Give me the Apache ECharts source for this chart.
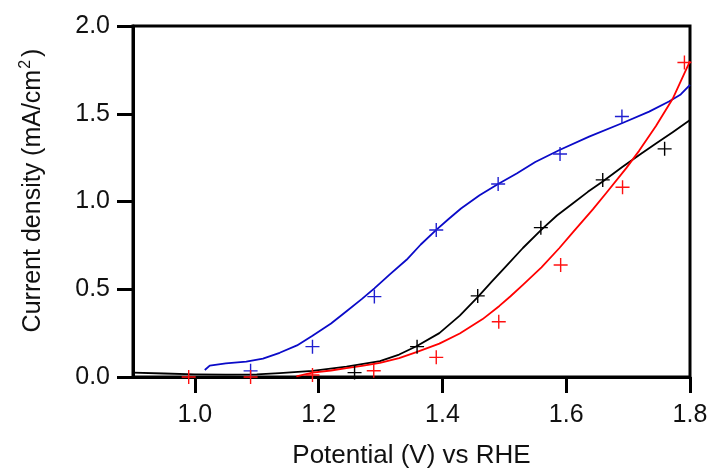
<!DOCTYPE html>
<html><head><meta charset="utf-8">
<script src="https://cdn.jsdelivr.net/npm/echarts@6/dist/echarts.min.js"></script>
<style>html,body{margin:0;padding:0;background:#fff}#c{width:711px;height:472px}</style>
</head><body><div id="c"></div>
<script>
// Tick labels
const xTickValues = [1.0, 1.2, 1.4, 1.6, 1.8];
const yTickValues = [0.0, 0.5, 1.0, 1.5, 2.0];

// Blue curve
const blueLineX = [1.016,1.024,1.05,1.083,1.11,1.137,1.165,1.19,1.22,1.245,1.27,1.29,1.315,1.342,1.365,1.39,1.41,1.43,1.46,1.49,1.52,1.55,1.59,1.637,1.69,1.734,1.766,1.785,1.8];
const blueLineY = [0.04,0.065,0.078,0.088,0.105,0.138,0.18,0.235,0.305,0.375,0.445,0.505,0.585,0.668,0.755,0.838,0.90,0.96,1.035,1.10,1.16,1.225,1.295,1.37,1.446,1.512,1.57,1.61,1.665];
// Black curve
const blackLineX = [0.9,0.95,1.0,1.05,1.10,1.137,1.19,1.245,1.299,1.33,1.358,1.395,1.428,1.457,1.48,1.503,1.53,1.56,1.585,1.611,1.635,1.659,1.69,1.718,1.745,1.772,1.8];
const blackLineY = [0.025,0.02,0.015,0.013,0.015,0.022,0.035,0.059,0.09,0.128,0.175,0.25,0.35,0.455,0.545,0.632,0.735,0.84,0.92,0.99,1.055,1.114,1.195,1.265,1.33,1.395,1.465];
// Red curve
const redLineX = [1.164,1.19,1.22,1.245,1.27,1.299,1.33,1.358,1.395,1.428,1.465,1.492,1.51,1.53,1.56,1.589,1.611,1.643,1.665,1.697,1.718,1.745,1.772,1.8];
const redLineY = [0.003,0.025,0.037,0.05,0.063,0.08,0.108,0.142,0.19,0.248,0.33,0.405,0.46,0.525,0.625,0.735,0.825,0.955,1.05,1.19,1.29,1.43,1.585,1.80];

// Markers (+)
const blueMarkX = [1.09,1.19,1.29,1.39,1.49,1.59,1.69];
const blueMarkY = [0.035,0.173,0.458,0.838,1.10,1.271,1.484];
const blackMarkX = [1.258,1.359,1.457,1.559,1.659,1.759];
const blackMarkY = [0.025,0.173,0.462,0.851,1.123,1.30];
const redMarkX = [0.99,1.09,1.19,1.289,1.39,1.491,1.591,1.691,1.791];
const redMarkY = [0.0,0.0,0.011,0.036,0.112,0.315,0.638,1.081,1.792];

const zip = (xs, ys) => xs.map((x, i) => [x, ys[i]]);
const FONT = 'Liberation Sans, Arial, sans-serif';
const PLUS = 'path://M0,6.3H14V7.7H0Z M6.3,0H7.7V14H6.3Z';

function lineSeries(xs, ys, color) {
  return { type: 'line', data: zip(xs, ys), showSymbol: false, symbol: 'none',
    smooth: false, lineStyle: { color: color, width: 1.8, join: 'round' },
    itemStyle: { color: color }, silent: true, z: 3 };
}
function markSeries(xs, ys, color) {
  return { type: 'scatter', data: zip(xs, ys), symbol: PLUS, symbolSize: 14,
    itemStyle: { color: color, opacity: 1 }, silent: true, z: 4 };
}

const chart = echarts.init(document.getElementById('c'), null, { renderer: 'canvas' });
chart.setOption({
  animation: false,
  backgroundColor: '#ffffff',
  grid: { left: 133, right: 21, top: 26, bottom: 95, containLabel: false, outerBoundsMode: 'none',
    show: true, borderColor: '#000', borderWidth: 3, backgroundColor: 'transparent' },
  xAxis: {
    type: 'value', min: 0.9, max: 1.8,
    name: 'Potential (V) vs RHE', nameLocation: 'middle', nameGap: 66,
    nameTextStyle: { fontFamily: FONT, fontSize: 26, color: '#111' },
    axisLine: { show: true, onZero: false, lineStyle: { color: '#000', width: 3 } },
    axisTick: { show: true, inside: false, length: 16, lineStyle: { color: '#000', width: 3 }, customValues: xTickValues },
    axisLabel: { show: true, margin: 26, fontFamily: FONT, fontSize: 25, color: '#111',
      customValues: xTickValues, formatter: v => Number(v).toFixed(1) },
    splitLine: { show: false }
  },
  yAxis: {
    type: 'value', min: 0, max: 2, interval: 0.5,
    name: 'Current density (mA/cm{sup|2})', nameLocation: 'middle', nameGap: 85, nameRotate: 90,
    nameTextStyle: { fontFamily: FONT, fontSize: 25, color: '#111', padding: [0, 0, 0, 22],
      rich: { sup: { fontFamily: FONT, fontSize: 16, color: '#111', padding: [0, 3, 14, 1] } } },
    axisLine: { show: true, onZero: false, lineStyle: { color: '#000', width: 3 } },
    axisTick: { show: true, inside: false, length: 16, lineStyle: { color: '#000', width: 3 }, customValues: yTickValues },
    axisLabel: { show: true, margin: 23, fontFamily: FONT, fontSize: 25, color: '#111',
      customValues: yTickValues, formatter: v => Number(v).toFixed(1) },
    splitLine: { show: false }
  },
  series: [
    lineSeries(blueLineX, blueLineY, '#0a0ac8'),
    lineSeries(blackLineX, blackLineY, '#000000'),
    lineSeries(redLineX, redLineY, '#ff0000'),
    markSeries(blueMarkX, blueMarkY, '#2020d0'),
    markSeries(blackMarkX, blackMarkY, '#000000'),
    markSeries(redMarkX, redMarkY, '#ff1010')
  ]
});
</script>
</body></html>
